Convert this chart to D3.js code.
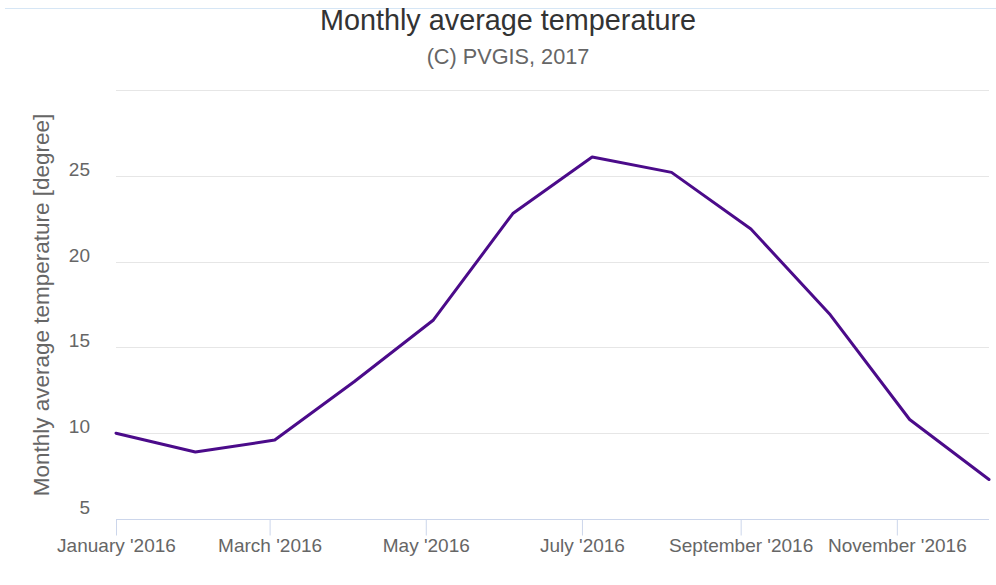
<!DOCTYPE html>
<html>
<head>
<meta charset="utf-8">
<script src="https://cdn.jsdelivr.net/npm/d3@7/dist/d3.min.js"></script>
<style>
  html, body { margin: 0; padding: 0; background: #ffffff; }
  svg { display: block; font-family: "Liberation Sans", Arial, Helvetica, sans-serif; }
</style>
</head>
<body>
<svg id="chart" width="996" height="585"></svg>
<script>
// ---- data ----
const dates = ["2016-01-01", "2016-02-01", "2016-03-03", "2016-04-03", "2016-05-04", "2016-06-04",
               "2016-07-05", "2016-08-05", "2016-09-05", "2016-10-06", "2016-11-06", "2016-12-07"];
const temperature = [10.0, 8.9, 9.6, 13.0, 16.6, 22.8, 26.1, 25.2, 21.9, 16.9, 10.8, 7.3];
const yTicks = [5, 10, 15, 20, 25, 30];
const xTickDates = ["2016-01-01", "2016-03-01", "2016-05-01", "2016-07-01", "2016-09-01", "2016-11-01"];
const xTickLabels = ["January '2016", "March '2016", "May '2016", "July '2016", "September '2016", "November '2016"];
const titleText = "Monthly average temperature";
const subtitleText = "(C) PVGIS, 2017";
const yAxisTitle = "Monthly average temperature [degree]";

(function () {
  const svg = d3.select("#chart");
  const pLeft = 116, pRight = 989, pTop = 90, pBottom = 519;
  const parse = d3.utcParse("%Y-%m-%d");
  const data = dates.map((d, i) => ({ date: parse(d), value: temperature[i] }));

  const x = d3.scaleUtc()
    .domain([data[0].date, data[data.length - 1].date])
    .range([pLeft, pRight]);
  const y = d3.scaleLinear().domain([5, 30]).range([pBottom, pTop]);

  // top border line
  svg.append("line")
    .attr("x1", 5).attr("x2", 996).attr("y1", 8.5).attr("y2", 8.5)
    .attr("stroke", "#d6e6f5").attr("stroke-width", 1);

  // title
  svg.append("text")
    .attr("x", 508).attr("y", 30)
    .attr("text-anchor", "middle")
    .attr("font-size", 28.8).attr("fill", "#333333")
    .text(titleText);
  svg.append("text")
    .attr("x", 508).attr("y", 64)
    .attr("text-anchor", "middle")
    .attr("font-size", 21.7).attr("fill", "#666666")
    .text(subtitleText);

  // gridlines
  svg.append("g").selectAll("line")
    .data(yTicks.filter(t => t !== 5))
    .join("line")
    .attr("x1", pLeft).attr("x2", pRight)
    .attr("y1", d => Math.round(y(d)) + 0.5).attr("y2", d => Math.round(y(d)) + 0.5)
    .attr("stroke", "#e6e6e6").attr("stroke-width", 1);

  // y labels
  svg.append("g").selectAll("text")
    .data(yTicks.filter(t => t !== 30))
    .join("text")
    .attr("x", 90)
    .attr("y", d => (d === 5 ? y(d) - 5 : y(d)))
    .attr("text-anchor", "end")
    .attr("font-size", 19).attr("fill", "#666666")
    .text(d => d);

  // y axis title
  svg.append("text")
    .attr("transform", "translate(49,305) rotate(-90)")
    .attr("text-anchor", "middle")
    .attr("font-size", 22.5).attr("fill", "#666666")
    .text(yAxisTitle);

  // x axis
  const xAxis = d3.axisBottom(x)
    .tickValues(xTickDates.map(parse))
    .tickFormat((d, i) => xTickLabels[i])
    .tickSize(16)
    .tickSizeOuter(0)
    .tickPadding(3);
  const gx = svg.append("g")
    .attr("transform", `translate(0,${pBottom + 0.5})`)
    .call(xAxis);
  gx.select(".domain").attr("stroke", "#ccd6eb").attr("d", `M${pLeft},0H${pRight}`);
  gx.selectAll(".tick line").attr("stroke", "#ccd6eb");
  gx.selectAll(".tick text")
    .attr("font-size", 19).attr("fill", "#666666")
    .attr("font-family", "'Liberation Sans', Arial, sans-serif");

  // line
  const line = d3.line().x(d => x(d.date)).y(d => y(d.value));
  svg.append("path")
    .datum(data)
    .attr("d", line)
    .attr("fill", "none")
    .attr("stroke", "#4b0b8a")
    .attr("stroke-width", 3)
    .attr("stroke-linejoin", "round")
    .attr("stroke-linecap", "round");
})();
</script>
</body>
</html>
